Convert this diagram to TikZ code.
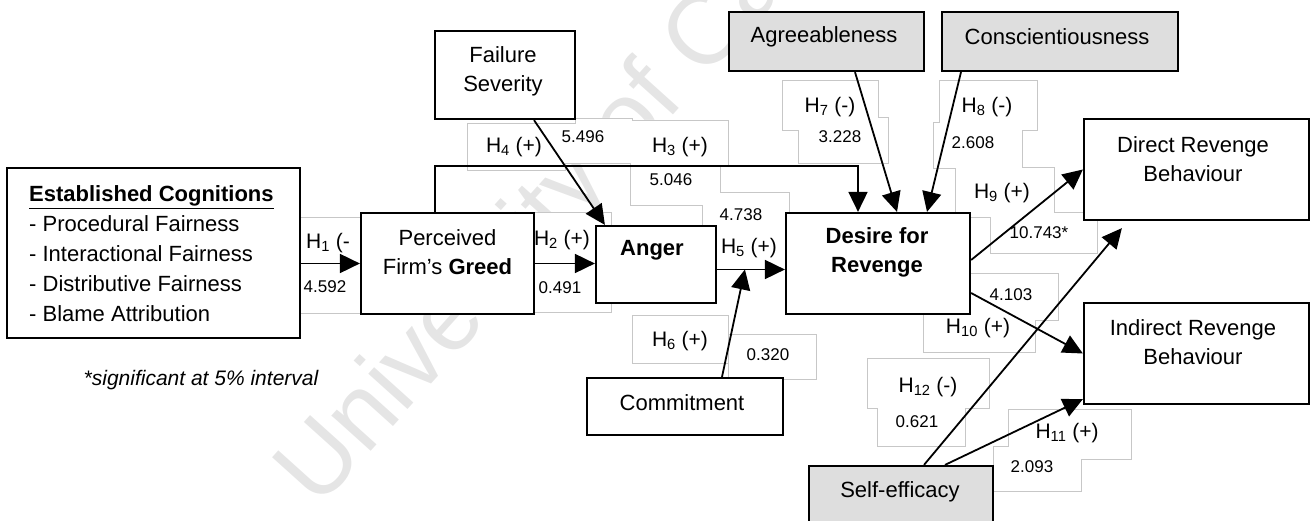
\documentclass[tikz,border=0pt]{standalone}
\usepackage{fontspec}
\setmainfont{Liberation Sans}
\usetikzlibrary{arrows.meta,calc}

\begin{document}
\begin{tikzpicture}[x=1pt,y=-1pt,
  box/.style={draw=black, line width=2.2pt, fill=white, inner sep=0pt},
  shaded/.style={box, fill=black!13},
  txt/.style={inner sep=0pt, align=center, font=\fontsize{22}{29}\selectfont},
  hyp/.style={inner sep=0pt, font=\fontsize{21}{25}\selectfont},
  coef/.style={inner sep=0pt, font=\fontsize{17}{20}\selectfont},
  link/.style={line width=1.8pt, -{Triangle[length=20pt,width=19pt]}},
  faint/.style={draw=black!22, line width=0.8pt},
]
\useasboundingbox (0,0) rectangle (1311,521);

% watermark
\node[rotate=48, anchor=base west, text=black!10, inner sep=0pt,
      font=\fontsize{100}{100}\selectfont] (wm) at (318,510) {University of Cape Town};

% white backgrounds of the coefficient text boxes
\fill[white] (299,217) rectangle (361,313);
\fill[white] (534,212) rectangle (611,312);
\fill[white] (467,123) -- (575,123) -- (575,118) -- (632,118) -- (632,120) -- (728,120)
  -- (728,167) -- (720,167) -- (720,192) -- (789,192) -- (789,269) -- (716,269)
  -- (716,226) -- (702,226) -- (702,205) -- (630,205) -- (630,163) -- (565,163)
  -- (565,170) -- (467,170) -- cycle;
\fill[white] (782,80) -- (878,80) -- (878,117) -- (888,117) -- (888,163) -- (798,163)
  -- (798,130) -- (782,130) -- cycle;
\fill[white] (939,80) -- (1037,80) -- (1037,130) -- (1022,130) -- (1022,167) -- (1054,167)
  -- (1054,212) -- (1084,212) -- (1084,260) -- (970,260) -- (970,213) -- (955,213)
  -- (955,168) -- (933,168) -- (933,122) -- (939,122) -- cycle;
\fill[white] (990,212) rectangle (1097,253);
\fill[white] (970,273) -- (1058,273) -- (1058,320) -- (1035,320) -- (1035,352) -- (923,352)
  -- (923,314) -- (970,314) -- cycle;
\fill[white] (632,315) rectangle (728,363);
\fill[white] (728,334) rectangle (816,379);
\fill[white] (867,358) -- (989,358) -- (989,408) -- (965,408) -- (965,446) -- (877,446)
  -- (877,408) -- (867,408) -- cycle;
\fill[white] (1008,409) -- (1131,409) -- (1131,459) -- (1081,459) -- (1081,491) -- (993,491)
  -- (993,446) -- (1008,446) -- cycle;

% faint outlines of the coefficient text boxes
\draw[faint] (299,217) rectangle (361,313);
\draw[faint] (534,212) rectangle (611,312);
\draw[faint] (467,170) -- (467,123) -- (575,123) -- (575,118) -- (632,118) -- (632,120)
  -- (728,120) -- (728,167);
\draw[faint] (467,170) -- (565,170) -- (565,163) -- (630,163) -- (630,205) -- (702,205) -- (702,226);
\draw[faint] (720,167) -- (720,192) -- (789,192) -- (789,213);
\draw[faint] (782,80) -- (878,80) -- (878,117) -- (888,117) -- (888,163) -- (798,163)
  -- (798,130) -- (782,130) -- cycle;
\draw[faint] (955,213) -- (955,168) -- (933,168) -- (933,122) -- (939,122) -- (939,80)
  -- (1037,80) -- (1037,130) -- (1022,130) -- (1022,167) -- (1054,167) -- (1054,212) -- (1084,212);
\draw[faint] (970,217) -- (990,217) -- (990,253) -- (1097,253) -- (1097,220);
\draw[faint] (970,273) -- (1058,273) -- (1058,320) -- (1035,320) -- (1035,352) -- (923,352) -- (923,314);
\draw[faint] (632,315) rectangle (728,363);
\draw[faint] (728,334) rectangle (816,379);
\draw[faint] (867,358) -- (989,358) -- (989,408) -- (965,408) -- (965,446) -- (877,446)
  -- (877,408) -- (867,408) -- cycle;
\draw[faint] (1008,409) -- (1131,409) -- (1131,459) -- (1081,459) -- (1081,491) -- (993,491)
  -- (993,446) -- (1008,446) -- cycle;

% construct boxes
\node[box, minimum width=293pt, minimum height=170pt] (est) at (153.5,253) {};
\node[box, minimum width=173pt, minimum height=101pt] (per) at (447.5,263.5) {};
\node[box, minimum width=120pt, minimum height=77pt]  (ang) at (656,264.5) {};
\node[box, minimum width=184pt, minimum height=101pt] (des) at (878,263.5) {};
\node[box, minimum width=140pt, minimum height=88pt]  (fs)  at (505,75) {};
\node[shaded, minimum width=195pt, minimum height=59pt] (agr) at (826.5,41.5) {};
\node[shaded, minimum width=236pt, minimum height=59pt] (con) at (1060,41.5) {};
\node[box, minimum width=225pt, minimum height=101pt] (dir) at (1196.5,169.5) {};
\node[box, minimum width=225pt, minimum height=101pt] (ind) at (1196.5,353.5) {};
\node[box, minimum width=196pt, minimum height=57pt]  (com) at (685,406.5) {};
\node[shaded, minimum width=184pt, minimum height=58pt] (sef) at (901,495) {};

% box texts
\node[txt, align=left, anchor=west, font=\fontsize{22}{30}\selectfont] (estt) at (29,254)
  {\underline{\textbf{Established Cognitions}}\\- Procedural Fairness\\- Interactional Fairness\\- Distributive Fairness\\- Blame Attribution};
\node[txt] (pert) at (447.5,252.5) {Perceived\\Firm's \textbf{Greed}};
\node[txt, font=\fontsize{22}{29}\selectfont\bfseries] (angt) at (652,250) {Anger};
\node[txt, font=\fontsize{22}{29}\selectfont\bfseries] (dest) at (877,252.5) {Desire for\\Revenge};
\node[txt] (fst)  at (503,71.5) {Failure\\Severity};
\node[txt] (agrt) at (824,37) {Agreeableness};
\node[txt] (cont) at (1057,37) {Conscientiousness};
\node[txt] (dirt) at (1193,159) {Direct Revenge\\Behaviour};
\node[txt] (indt) at (1193,342.5) {Indirect Revenge\\Behaviour};
\node[txt] (comt) at (682,403) {Commitment};
\node[txt] (seft) at (900,492) {Self-efficacy};
\node[txt, font=\fontsize{21}{25}\selectfont\itshape] (note) at (201,380) {*significant at 5\% interval};

% paths
\draw[link] (est.east |- per.west) -- (per.west);
\draw[link] (per.east) -- (per.east -| ang.west);
\draw[link] ([yshift=-5pt]ang.east) -- coordinate[pos=0.41] (mod) ([yshift=-5pt]ang.east -| des.west);
\draw[link] ([xshift=75pt]per.north west) -- ++(0,-46) -| ([xshift=-20pt]des.north);
\draw[link] ([xshift=29pt]fs.south) -- ([xshift=10pt]ang.north west);
\draw[link] ([xshift=28.5pt]agr.south) -- ([xshift=19pt]des.north);
\draw[link] ([xshift=-99pt]con.south) -- ([xshift=49pt]des.north);
\draw[link] ([yshift=3.5pt]des.east) -- (dir.west);
\draw[link] ([yshift=-29.5pt]des.east) -- (ind.west);
\draw[link] ([xshift=37pt]com.north) -- (mod);
\draw[link] ([xshift=23pt]sef.north) -- ([xshift=39pt,yshift=-7pt]dir.south west);
\draw[link] ([xshift=44pt]sef.north) -- ([yshift=6pt]ind.south west);

% hypothesis labels and coefficients
\node[hyp]  (h1) at (328,243) {H\textsubscript{1} (-};
\node[coef] (c1) at (325,287) {4.592};
\node[hyp]  (h2) at (562,240) {H\textsubscript{2} (+)};
\node[coef] (c2) at (560,288) {0.491};
\node[hyp]  (h3) at (680,147) {H\textsubscript{3} (+)};
\node[coef] (c3) at (671,180) {5.046};
\node[hyp]  (h4) at (514,147) {H\textsubscript{4} (+)};
\node[coef] (c4) at (583,137) {5.496};
\node[hyp]  (h5) at (749,248) {H\textsubscript{5} (+)};
\node[coef] (c5) at (741,215) {4.738};
\node[hyp]  (h6) at (680,341) {H\textsubscript{6} (+)};
\node[coef] (c6) at (768,355) {0.320};
\node[hyp]  (h7) at (830,107) {H\textsubscript{7} (-)};
\node[coef] (c7) at (840,137) {3.228};
\node[hyp]  (h8) at (987,107) {H\textsubscript{8} (-)};
\node[coef] (c8) at (973,143) {2.608};
\node[hyp]  (h9) at (1002,193) {H\textsubscript{9} (+)};
\node[coef] (c9) at (1039,233) {10.743*};
\node[hyp]  (h10) at (978,328) {H\textsubscript{10} (+)};
\node[coef] (c10) at (1011,295) {4.103};
\node[hyp]  (h11) at (1067,433) {H\textsubscript{11} (+)};
\node[coef] (c11) at (1032,467) {2.093};
\node[hyp]  (h12) at (928,387) {H\textsubscript{12} (-)};
\node[coef] (c12) at (917,422) {0.621};
\end{tikzpicture}
\end{document}
